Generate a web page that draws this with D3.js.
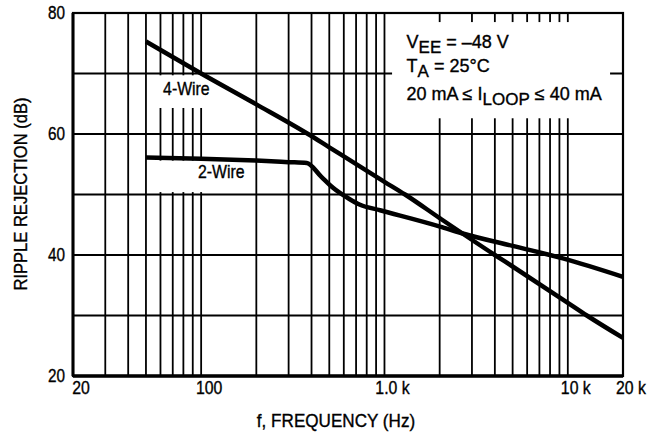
<!DOCTYPE html>
<html>
<head>
<meta charset="utf-8">
<script src="https://cdn.jsdelivr.net/npm/d3@7"></script>
<style>
  body { margin: 0; background: #fff; }
  text { font-family: "Liberation Sans", Arial, sans-serif; fill: #000; stroke: #000; stroke-width: 0.35; }
</style>
</head>
<body>
<svg id="chart" width="647" height="439"></svg>
<script>
// curve values (frequency in Hz, rejection in dB)
var fourWireFreq = [50, 100, 200, 383, 500, 1000, 1295, 2000, 4000, 5000, 10000, 12700, 20000];
var fourWireDb   = [75.3, 70, 64.9, 60, 57.8, 52.1, 50, 46.1, 40, 38.1, 32.1, 30, 26.3];

var twoWireFreq = [50, 100, 200, 300, 377, 450, 524, 640, 736, 946, 2010, 2640, 5000, 9400, 20000];
var twoWireDb   = [56.1, 55.9, 55.6, 55.35, 55.2, 53.0, 51.1, 49.3, 48.3, 47.4, 44.7, 43.6, 41.5, 39.45, 36.4];

var xTickValues = [20, 100, 1000, 10000, 20000];
var xTickLabels = ["20", "100", "1.0 k", "10 k", "20 k"];
var yTickValues = [20, 40, 60, 80];
var yTickLabels = ["20", "40", "60", "80"];

var margin = { left: 73, top: 13, right: 24, bottom: 63 };
var width = 647 - margin.left - margin.right;
var height = 439 - margin.top - margin.bottom;

var svg = d3.select("svg#chart");
var chart = svg.append("g")
    .attr("transform", "translate(" + margin.left + "," + margin.top + ")");

var x = d3.scaleLog().domain([20, 20000]).range([0, width]);
var y = d3.scaleLinear().domain([20, 80]).range([height, 0]);

//Grid lines (every decade subdivision and every 10 dB)
chart.selectAll(".vgrid")
  .data(x.ticks())
  .enter().append("line")
    .attr("x1", function (d) { return x(d); })
    .attr("x2", function (d) { return x(d); })
    .attr("y1", 0)
    .attr("y2", height)
    .attr("stroke", "#000")
    .attr("stroke-width", 1.8);

chart.selectAll(".hgrid")
  .data(d3.range(30, 80, 10))
  .enter().append("line")
    .attr("x1", 0)
    .attr("x2", width)
    .attr("y1", function (d) { return y(d); })
    .attr("y2", function (d) { return y(d); })
    .attr("stroke", "#000")
    .attr("stroke-width", 2);

//White boxes behind the labels (in data units)
var boxes = [
  { f0: 53.5, f1: 105, db0: 64.3, db1: 69.7 },
  { f0: 55, f1: 130, db0: 50.4, db1: 55.6 },
  { f0: 1100, f1: 17000, db0: 62.6, db1: 78.5 }
];
chart.selectAll(".mask")
  .data(boxes)
  .enter().append("rect")
    .attr("x", function (d) { return x(d.f0); })
    .attr("width", function (d) { return x(d.f1) - x(d.f0); })
    .attr("y", function (d) { return y(d.db1); })
    .attr("height", function (d) { return y(d.db0) - y(d.db1); })
    .attr("fill", "#fff");

//Frame
chart.append("rect")
    .attr("x", 0).attr("y", 0)
    .attr("width", width).attr("height", height)
    .attr("fill", "none")
    .attr("stroke", "#000")
    .attr("stroke-width", 2.2);
chart.append("line")
    .attr("x1", 0).attr("x2", width)
    .attr("y1", height).attr("y2", height)
    .attr("stroke", "#000").attr("stroke-width", 3.5);
chart.append("line")
    .attr("x1", 0).attr("x2", 0)
    .attr("y1", 0).attr("y2", height)
    .attr("stroke", "#000").attr("stroke-width", 3);

//Curves
var line = d3.line()
    .x(function (d) { return x(d[0]); })
    .y(function (d) { return y(d[1]); })
    .curve(d3.curveMonotoneX);

chart.append("path")
    .datum(d3.zip(fourWireFreq, fourWireDb))
    .attr("d", line)
    .attr("fill", "none")
    .attr("stroke", "#000")
    .attr("stroke-width", 4.5);

chart.append("path")
    .datum(d3.zip(twoWireFreq, twoWireDb))
    .attr("d", line)
    .attr("fill", "none")
    .attr("stroke", "#000")
    .attr("stroke-width", 4.5);

//Condensed text helper (the original lettering is a narrow Helvetica)
function label(parent, px, py, str, size, anchor, sx) {
  return parent.append("text")
      .attr("transform", "translate(" + px + "," + py + ") scale(" + (sx || 0.88) + ",1)")
      .attr("text-anchor", anchor || "start")
      .attr("font-size", size)
      .text(str);
}

//Curve labels
label(chart, x(62), y(66.4), "4-Wire", 18);
label(chart, x(96), y(52.7), "2-Wire", 18);

//Tick labels
xTickValues.forEach(function (d, i) {
  label(chart, x(d) + 8, height + 18, xTickLabels[i], 18, "middle");
});
yTickValues.forEach(function (d, i) {
  label(chart, -8, y(d) + 6, yTickLabels[i], 18, "end", 0.85);
});

//Axis titles
label(svg, 336, 427, "f, FREQUENCY (Hz)", 18, "middle", 0.95);
svg.append("text")
    .attr("transform", "translate(27,194) rotate(-90) scale(0.92,1)")
    .attr("text-anchor", "middle")
    .attr("font-size", 18)
    .text("RIPPLE REJECTION (dB)");

//Conditions
var noteX = x(1320);
var note = chart.append("text")
    .attr("font-size", 18);
var l1 = note.append("tspan").attr("x", noteX).attr("y", 35);
l1.append("tspan").text("V");
l1.append("tspan").attr("dy", 5).attr("font-size", 17).text("EE");
l1.append("tspan").attr("dy", -5).text(" = \u201348 V");
var l2 = note.append("tspan").attr("x", noteX).attr("y", 59);
l2.append("tspan").text("T");
l2.append("tspan").attr("dy", 5).attr("font-size", 17).text("A");
l2.append("tspan").attr("dy", -5).text(" = 25\u00B0C");
var l3 = note.append("tspan").attr("x", noteX).attr("y", 87);
l3.append("tspan").text("20 mA \u2264 I");
l3.append("tspan").attr("dy", 5).attr("font-size", 17).text("LOOP");
l3.append("tspan").attr("dy", -5).text(" \u2264 40 mA");
</script>
</body>
</html>
